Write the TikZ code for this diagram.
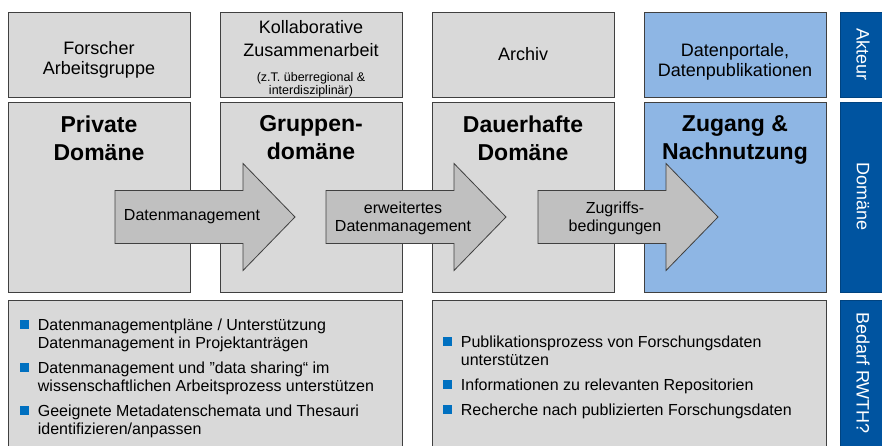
\documentclass[tikz,border=0pt]{standalone}
\usepackage{fontspec}
\setmainfont{Liberation Sans}
\usepackage{tikz}
\usetikzlibrary{positioning}

\definecolor{grau}{RGB}{217,217,217}
\definecolor{pfeilgrau}{RGB}{192,192,192}
\definecolor{rand}{RGB}{64,64,64}
\definecolor{hellblau}{RGB}{142,182,228}
\definecolor{dunkelblau}{RGB}{0,84,160}
\definecolor{punkt}{RGB}{0,112,192}

\newcommand{\bul}{\makebox[17.7pt][l]{\textcolor{punkt}{\rule[1.5pt]{9pt}{9pt}}}}
\newcommand{\ein}{\hspace*{17.7pt}}

\begin{document}
\begin{tikzpicture}[x=1pt,y=-1pt]
\tikzstyle{every node}+=[inner sep=0pt]
\tikzstyle{kasten}=[draw=rand, fill=grau, line width=1.2pt, anchor=north west]
\tikzstyle{blaukasten}=[kasten, fill=hellblau]
\tikzstyle{seite}=[draw=dunkelblau!80!black, fill=dunkelblau, line width=1.2pt, anchor=north west]
\tikzstyle{seitentext}=[text=white, rotate=-90, font=\fontsize{18}{20}\selectfont]
\tikzstyle{akteur}=[align=center, font=\fontsize{18}{20}\selectfont]
\tikzstyle{titel}=[align=center, anchor=north, font=\fontsize{23}{28}\selectfont\bfseries]
\tikzstyle{pfeil}=[draw=rand, fill=pfeilgrau, line width=0.8pt, line join=miter]
\tikzstyle{pfeiltext}=[align=center, font=\fontsize{16}{18}\selectfont]
\tikzstyle{liste}=[align=left, anchor=north west, font=\fontsize{16}{18}\selectfont]
\clip (0,0) rectangle (882,446);
\fill [white] (0,0) rectangle (882,446);
% Akteure
\node [kasten, minimum width=182, minimum height=85] (a1) at (8,12) {};
\node [kasten, minimum width=182, minimum height=85] (a2) at (220,12) {};
\node [kasten, minimum width=182, minimum height=85] (a3) at (432,12) {};
\node [blaukasten, minimum width=182, minimum height=85] (a4) at (644,12) {};
\node [akteur, anchor=north] (ta1) at (99,41.3) {Forscher\\Arbeitsgruppe};
\node [akteur, anchor=north, font=\fontsize{18}{23.4}\selectfont] (ta2) at (311,20.3) {Kollaborative\\Zusammenarbeit};
\node [akteur, anchor=north, font=\fontsize{12.5}{13.3}\selectfont] (ta2b) at (311,72) {(z.T. überregional \&\\interdisziplinär)};
\node [akteur, anchor=base] (ta3) at (523,60.7) {Archiv};
\node [akteur, anchor=north] (ta4) at (735,43.5) {Datenportale,\\Datenpublikationen};
% Domaenen
\node [kasten, minimum width=182, minimum height=190] (d1) at (8,102) {};
\node [kasten, minimum width=182, minimum height=190] (d2) at (220,102) {};
\node [kasten, minimum width=182, minimum height=190] (d3) at (432,102) {};
\node [blaukasten, minimum width=182, minimum height=190] (d4) at (644,102) {};
\node [titel] (td1) at (99,115.5) {Private\\Domäne};
\node [titel] (td2) at (311,115.5) {Gruppen-\\domäne};
\node [titel] (td3) at (523,115.5) {Dauerhafte\\Domäne};
\node [titel] (td4) at (735,115.5) {Zugang \&\\Nachnutzung};
% Pfeile
\coordinate (p1) at (115,217);
\coordinate (p2) at (326,217);
\coordinate (p3) at (538,217);
\filldraw [pfeil] (p1) ++(0,-26.5) -- ++(128,0) -- ++(0,-27) -- ++(52,53.5) -- ++(-52,53.5) -- ++(0,-27) -- ++(-128,0) -- cycle;
\filldraw [pfeil] (p2) ++(0,-26.5) -- ++(128,0) -- ++(0,-27) -- ++(52,53.5) -- ++(-52,53.5) -- ++(0,-27) -- ++(-128,0) -- cycle;
\filldraw [pfeil] (p3) ++(0,-26.5) -- ++(128,0) -- ++(0,-27) -- ++(52,53.5) -- ++(-52,53.5) -- ++(0,-27) -- ++(-128,0) -- cycle;
\node [pfeiltext] (tp1) at (192,217) {Datenmanagement};
\node [pfeiltext] (tp2) at (403,218) {erweitertes\\Datenmanagement};
\node [pfeiltext] (tp3) at (615,218) {Zugriffs-\\bedingungen};
% Bedarf
\node [kasten, minimum width=394, minimum height=160] (b1) at (8,300) {};
\node [kasten, minimum width=394, minimum height=160] (b2) at (432,300) {};
\node [liste] (l1) at (20,318.3) {\bul Datenmanagementpläne / Unterstützung\\\ein Datenmanagement in Projektanträgen\\[7pt]\bul Datenmanagement und ”data sharing“ im\\\ein wissenschaftlichen Arbeitsprozess unterstützen\\[7pt]\bul Geeignete Metadatenschemata und Thesauri\\\ein identifizieren/anpassen};
\node [liste] (l2) at (443,336) {\bul Publikationsprozess von Forschungsdaten\\\ein unterstützen\\[7pt]\bul Informationen zu relevanten Repositorien\\[7pt]\bul Recherche nach publizierten Forschungsdaten};
% Seitenleiste
\node [seite, minimum width=50, minimum height=85] (s1) at (840,12) {};
\node [seite, minimum width=50, minimum height=190] (s2) at (840,102) {};
\node [seite, minimum width=50, minimum height=160] (s3) at (840,300) {};
\node [seitentext] (ts1) at (863,54.5) {Akteur};
\node [seitentext] (ts2) at (863,197) {Domäne};
\node [seitentext] (ts3) at (863,373) {Bedarf RWTH?};
\end{tikzpicture}
\end{document}
